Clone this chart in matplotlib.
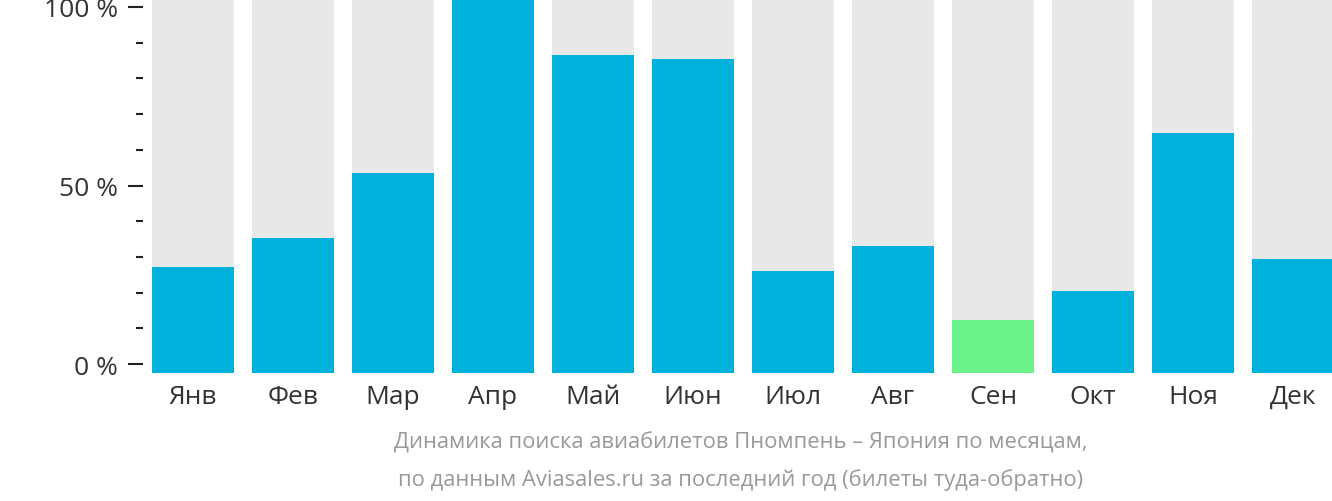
import matplotlib
matplotlib.use("Agg")
import matplotlib.pyplot as plt
from matplotlib.ticker import MultipleLocator, FuncFormatter

plt.rcParams['font.family'] = ['Open Sans', 'DejaVu Sans']

months = ['Янв', 'Фев', 'Мар', 'Апр', 'Май', 'Июн', 'Июл', 'Авг', 'Сен', 'Окт', 'Ноя', 'Дек']
values = [27.3, 35.4, 53.6, 103.0, 86.6, 85.5, 26.1, 33.1, 12.4, 20.5, 64.8, 29.5]
highlight = 'Сен'

blue = '#00b1dc'
green = '#6cf28a'
grey = '#e8e8e8'

y_low, y_high = -2.52, 102.24

fig = plt.figure(figsize=(13.32, 5.02), dpi=100)
ax = fig.add_axes([143 / 1332, 128 / 502, 1200 / 1332, 374 / 502])

x = list(range(len(months)))
ax.bar(x, [y_high - y_low] * len(x), bottom=y_low, width=0.82, color=grey, zorder=1)
colors = [green if m == highlight else blue for m in months]
ax.bar(x, [v - y_low for v in values], bottom=y_low, width=0.82, color=colors, zorder=2)

ax.set_xlim(-0.5, len(months) - 0.5)
ax.set_ylim(y_low, y_high)
for s in ax.spines.values():
    s.set_visible(False)

ax.set_xticks(x)
ax.set_xticklabels(months)
ax.tick_params(axis='x', length=0, pad=8, labelsize=19, labelcolor='#333333')

ax.yaxis.set_major_locator(MultipleLocator(50))
ax.yaxis.set_minor_locator(MultipleLocator(10))
ax.yaxis.set_major_formatter(FuncFormatter(lambda v, p: f'{int(v)} %'))
ax.tick_params(axis='y', which='major', length=11, width=1.5, pad=7,
               labelsize=19, labelcolor='#333333', color='#222222')
ax.tick_params(axis='y', which='minor', length=5, width=1.5, color='#222222')

fig.text(741 / 1332, 1 - 443 / 502, 'Динамика поиска авиабилетов Пномпень – Япония по месяцам,',
         ha='center', va='center', fontsize=15.8, color='#999999')
fig.text(741 / 1332, 1 - 480 / 502, 'по данным Aviasales.ru за последний год (билеты туда-обратно)',
         ha='center', va='center', fontsize=15.8, color='#999999')

fig.savefig('out.png', dpi=100)
